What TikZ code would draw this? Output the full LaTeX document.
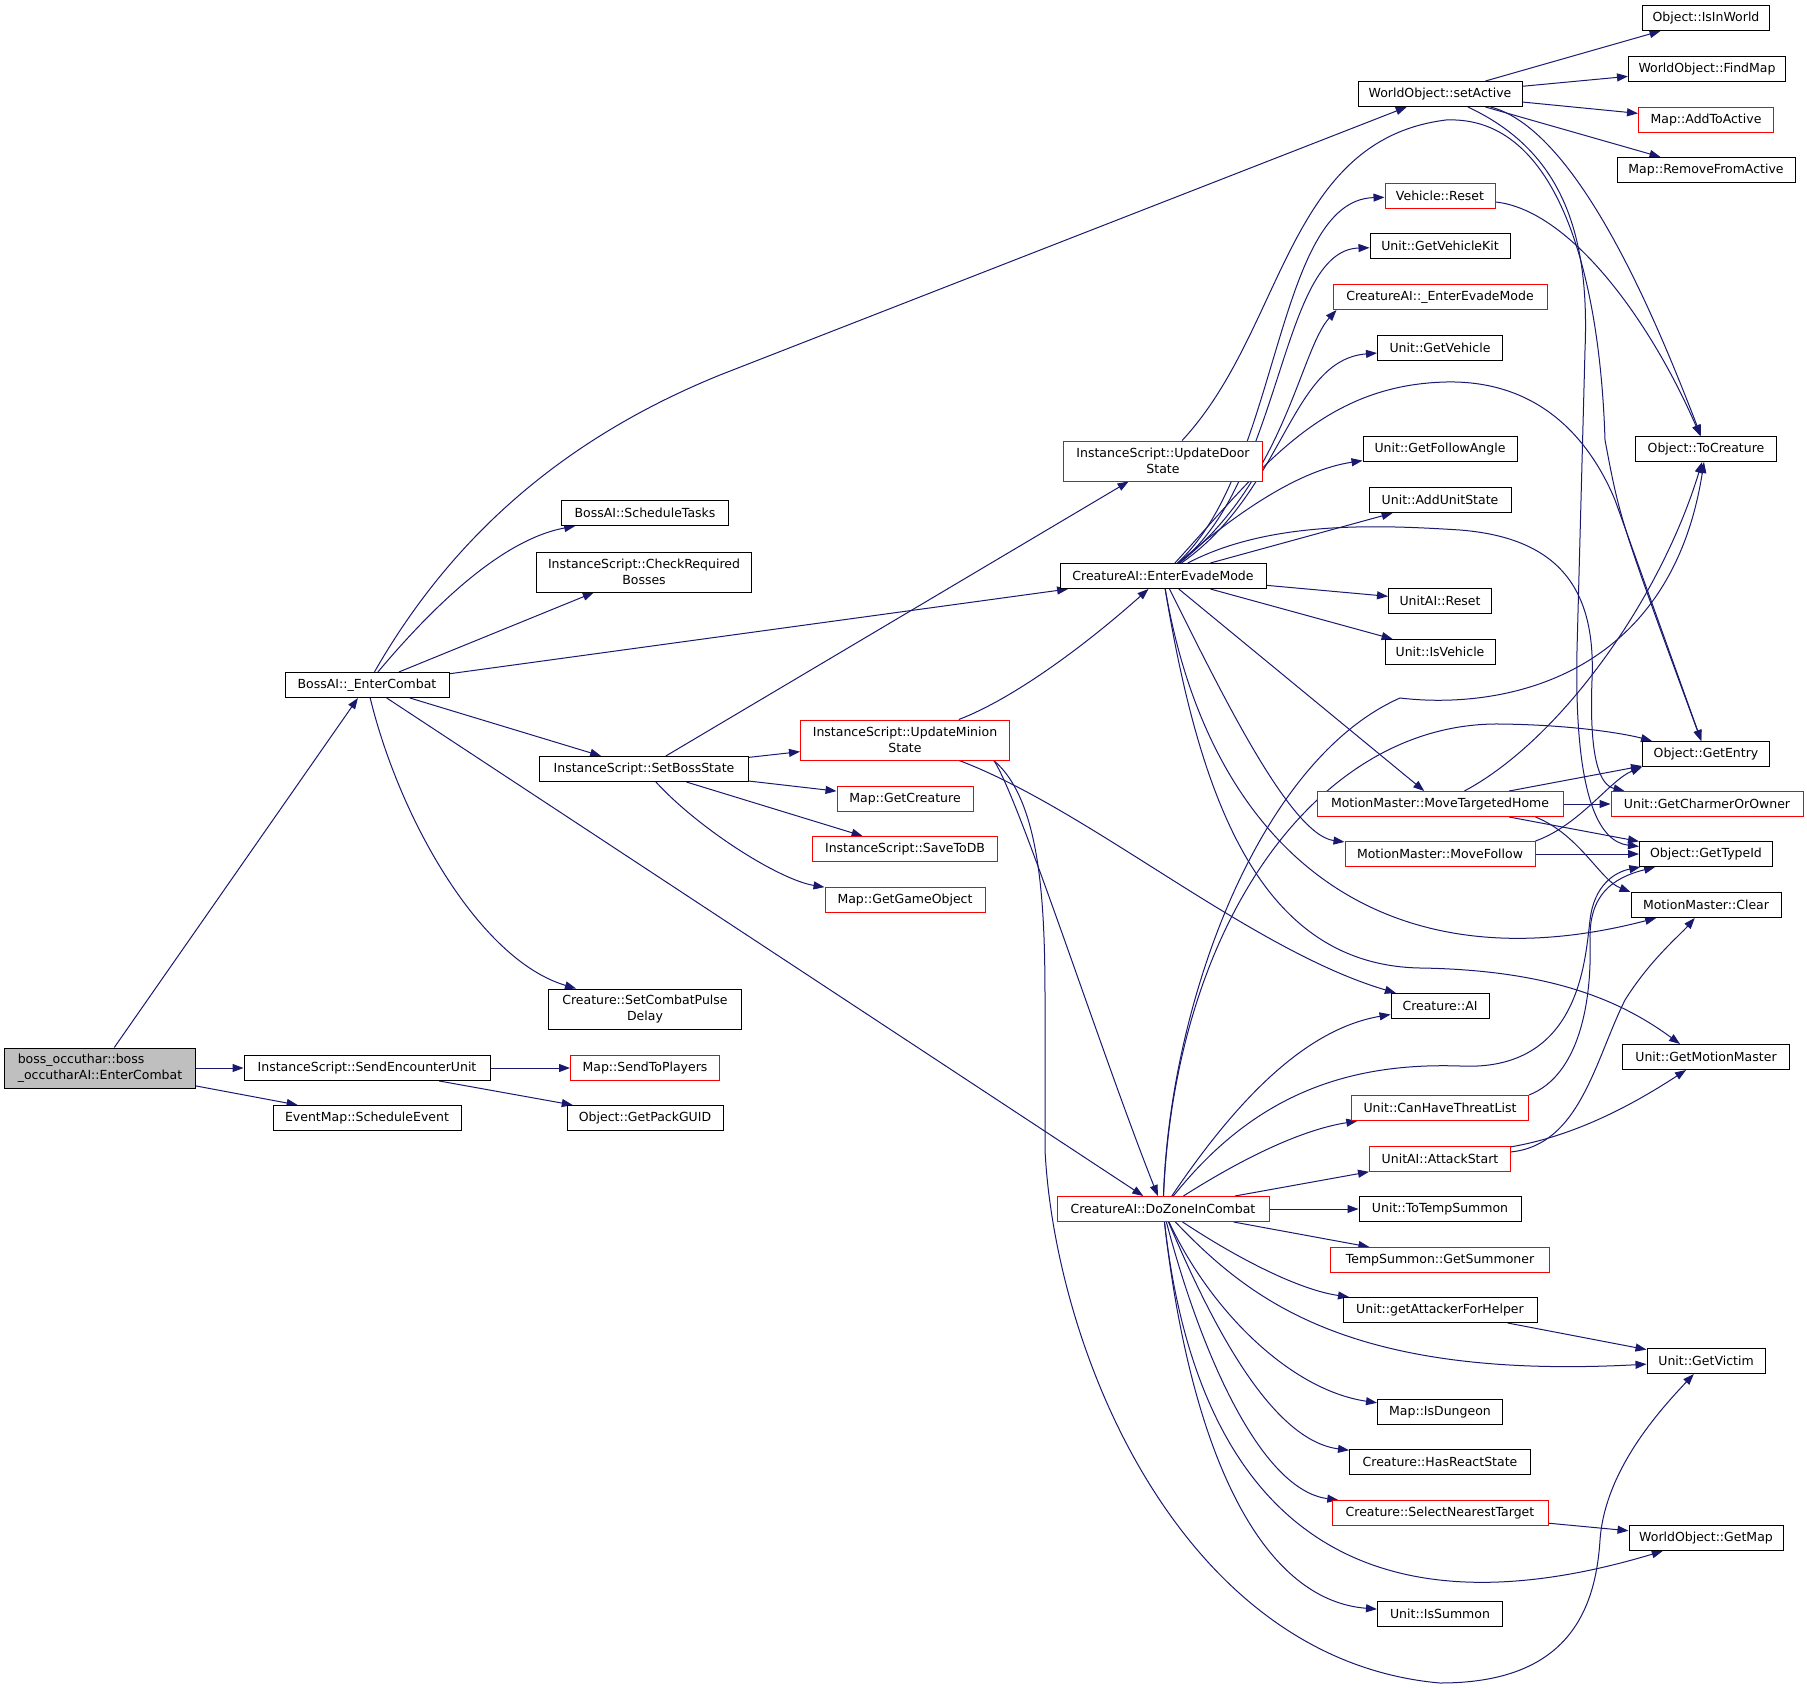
\documentclass[tikz,border=0pt]{standalone}
\usepackage{fontspec}
\setmainfont{DejaVu Sans}
\usepackage{xcolor}
\usepackage{tikz}
\usetikzlibrary{arrows.meta}
\usetikzlibrary{backgrounds}
\definecolor{edgeblue}{HTML}{191970}
\tikzset{
 fn/.style={draw=black, fill=white, line width=1pt, inner xsep=3pt, inner ysep=2pt, minimum height=25pt, font=\fontsize{12.5}{15.5}\selectfont},
 fnred/.style={fn, draw=red},
 fnroot/.style={fn, fill=black!25, align=left, minimum height=40pt},
 two/.style={minimum height=40pt, align=center},
 call/.style={draw=edgeblue, line width=1pt, -{Triangle[length=11pt,width=8pt]}}
}
\begin{document}
\begin{tikzpicture}[x=1pt,y=-1pt]
\path[use as bounding box] (0,0) rectangle (1807,1688);
\node[fnroot, minimum width=191] (boss) at (100,1068) {boss\_occuthar::boss\\\_occutharAI::EnterCombat};
\node[fn, minimum width=164] (bossec) at (367,685) {BossAI::\_EnterCombat};
\node[fn, minimum width=246] (sendenc) at (367,1068) {InstanceScript::SendEncounterUnit};
\node[fn, minimum width=188] (schedev) at (367,1118) {EventMap::ScheduleEvent};
\node[fn, minimum width=167] (schedtasks) at (645,513) {BossAI::ScheduleTasks};
\node[fn, two, minimum width=215] (checkreq) at (644,572) {InstanceScript::CheckRequired\\Bosses};
\node[fn, minimum width=209] (setboss) at (644,769) {InstanceScript::SetBossState};
\node[fn, two, minimum width=193] (pulse) at (645,1009) {Creature::SetCombatPulse\\Delay};
\node[fnred, minimum width=149] (sendplayers) at (645,1068) {Map::SendToPlayers};
\node[fn, minimum width=156] (packguid) at (645,1118) {Object::GetPackGUID};
\node[fnred, two, minimum width=199] (doorstate) at (1163,461) {InstanceScript::UpdateDoor\\State};
\node[fnred, two, minimum width=209] (minion) at (905,740) {InstanceScript::UpdateMinion\\State};
\node[fnred, minimum width=136] (getcreature) at (905,799) {Map::GetCreature};
\node[fnred, minimum width=185] (savedb) at (905,849) {InstanceScript::SaveToDB};
\node[fnred, minimum width=160] (getgo) at (905,900) {Map::GetGameObject};
\node[fn, minimum width=206] (evade) at (1163,576) {CreatureAI::EnterEvadeMode};
\node[fnred, minimum width=212] (dozone) at (1163,1209) {CreatureAI::DoZoneInCombat};
\node[fn, minimum width=164] (setactive) at (1440,94) {WorldObject::setActive};
\node[fnred, minimum width=110] (vreset) at (1440,196) {Vehicle::Reset};
\node[fn, minimum width=140] (vehkit) at (1440,246) {Unit::GetVehicleKit};
\node[fnred, minimum width=214] (evadeint) at (1440,297) {CreatureAI::\_EnterEvadeMode};
\node[fn, minimum width=125] (getveh) at (1440,348) {Unit::GetVehicle};
\node[fn, minimum width=154] (followangle) at (1440,449) {Unit::GetFollowAngle};
\node[fn, minimum width=142] (addstate) at (1440,500) {Unit::AddUnitState};
\node[fn, minimum width=103] (aireset) at (1440,601) {UnitAI::Reset};
\node[fn, minimum width=110] (isveh) at (1440,652) {Unit::IsVehicle};
\node[fnred, minimum width=246] (targhome) at (1440,804) {MotionMaster::MoveTargetedHome};
\node[fnred, minimum width=190] (movefollow) at (1440,854) {MotionMaster::MoveFollow};
\node[fn, minimum width=98] (creatureai) at (1440,1006) {Creature::AI};
\node[fnred, minimum width=177] (threat) at (1440,1108) {Unit::CanHaveThreatList};
\node[fnred, minimum width=141] (attack) at (1440,1159) {UnitAI::AttackStart};
\node[fn, minimum width=162] (tempsum) at (1440,1209) {Unit::ToTempSummon};
\node[fnred, minimum width=219] (summoner) at (1440,1260) {TempSummon::GetSummoner};
\node[fn, minimum width=194] (helper) at (1440,1310) {Unit::getAttackerForHelper};
\node[fn, minimum width=125] (isdungeon) at (1440,1412) {Map::IsDungeon};
\node[fn, minimum width=181] (reactstate) at (1440,1462) {Creature::HasReactState};
\node[fnred, minimum width=216] (nearest) at (1440,1513) {Creature::SelectNearestTarget};
\node[fn, minimum width=125] (issummon) at (1440,1614) {Unit::IsSummon};
\node[fn, minimum width=127] (isinworld) at (1706,18) {Object::IsInWorld};
\node[fn, minimum width=157] (findmap) at (1707,69) {WorldObject::FindMap};
\node[fnred, minimum width=135] (addactive) at (1706,120) {Map::AddToActive};
\node[fn, minimum width=178] (removeactive) at (1706,170) {Map::RemoveFromActive};
\node[fn, minimum width=141] (tocreature) at (1706,449) {Object::ToCreature};
\node[fn, minimum width=127] (getentry) at (1706,754) {Object::GetEntry};
\node[fnred, minimum width=192] (charmer) at (1707,804) {Unit::GetCharmerOrOwner};
\node[fn, minimum width=133] (typeid) at (1706,854) {Object::GetTypeId};
\node[fn, minimum width=150] (clear) at (1706,905) {MotionMaster::Clear};
\node[fn, minimum width=167] (motionmaster) at (1706,1057) {Unit::GetMotionMaster};
\node[fn, minimum width=118] (victim) at (1706,1361) {Unit::GetVictim};
\node[fn, minimum width=154] (getmap) at (1706,1538) {WorldObject::GetMap};
\begin{scope}[on background layer]
\fill[white] (0,0) rectangle (1807,1688);
\foreach \a/\b in {boss/bossec, boss/sendenc, boss/schedev, sendenc/sendplayers, sendenc/packguid, bossec/checkreq, bossec/evade, bossec/setboss, bossec/dozone, setboss/doorstate, setboss/minion, setboss/getcreature, setboss/savedb, evade/addstate, evade/aireset, evade/isveh, evade/targhome, dozone/attack, dozone/tempsum, dozone/summoner, helper/victim, nearest/getmap, setactive/isinworld, setactive/findmap, setactive/addactive, setactive/removeactive, targhome/getentry, targhome/charmer, targhome/typeid, movefollow/typeid}
 \draw[call] (\a) -- (\b);
\draw[call] (bossec) .. controls (450,540) and (560,440) .. (720,375) -- (setactive);
\draw[call] (bossec) .. controls (430,610) and (500,540) .. (schedtasks);
\draw[call] (bossec) .. controls (400,820) and (480,960) .. (pulse);
\draw[call] (setboss) .. controls (700,830) and (780,880) .. (getgo);
\draw[call] (minion) .. controls (1010,700) and (1080,650) .. (evade);
\draw[call] (minion.-13) .. controls (1020,800) and (1100,1050) .. (dozone);
\draw[call] (minion) .. controls (1090,810) and (1250,950) .. (creatureai);
\draw[call] (minion.-13) .. controls (1040,800) and (1045,900) .. (1045,1000) -- (1045,1150) .. controls (1055,1350) and (1180,1660) .. (1440,1683) .. controls (1560,1683) and (1595,1620) .. (1600,1540) .. controls (1605,1470) and (1660,1410) .. (victim);
\draw[call] (doorstate) .. controls (1285,330) and (1285,140) .. (1446,120) .. controls (1560,115) and (1600,280) .. (1605,440) .. controls (1620,520) .. (getentry);
\draw[call] (evade) .. controls (1280,470) and (1275,200) .. (vreset);
\draw[call] (evade) .. controls (1283,480) and (1280,250) .. (vehkit);
\draw[call] (evade) .. controls (1285,480) and (1300,350) .. ([xshift=4]evadeint.south west);
\draw[call] (evade) .. controls (1285,490) and (1290,360) .. (getveh);
\draw[call] (evade) .. controls (1240,510) and (1300,470) .. (followangle);
\draw[call] (evade) .. controls (1260,470) and (1320,385) .. (1446,382) .. controls (1540,380) and (1590,440) .. (1615,500) -- (getentry);
\draw[call] (evade) .. controls (1270,520) and (1380,525) .. (1460,530) .. controls (1560,538) and (1596,590) .. (1592,680) .. controls (1589,760) and (1600,785) .. ([xshift=14]charmer.north west);
\draw[call] (evade) .. controls (1220,690) and (1290,835) .. (movefollow);
\draw[call] (evade) .. controls (1210,850) and (1380,990) .. (clear);
\draw[call] (evade) .. controls (1200,800) and (1260,965) .. (1420,968) .. controls (1550,970) and (1620,1000) .. ([xshift=-26]motionmaster.north);
\draw[call] (setactive) .. controls (1580,130) and (1660,330) .. (tocreature);
\draw[call] (setactive) .. controls (1560,150) and (1590,230) .. (1585,350) -- (1577,650) .. controls (1574,800) and (1600,842) .. (typeid);
\draw[call] (vreset) .. controls (1570,210) and (1650,320) .. (tocreature);
\draw[call] (targhome) .. controls (1560,740) and (1660,600) .. (tocreature);
\draw[call] ([xshift=-28]targhome.south east) .. controls (1580,835) and (1600,880) .. (clear.north west);
\draw[call] (movefollow.north east) .. controls (1580,825) and (1610,780) .. (getentry.south west);
\draw[call] (dozone) .. controls (1230,1110) and (1300,1030) .. (creatureai);
\draw[call] (dozone) .. controls (1240,1160) and (1300,1130) .. (threat);
\draw[call] (dozone) .. controls (1240,1260) and (1300,1290) .. (helper);
\draw[call] (dozone) .. controls (1250,1300) and (1350,1380) .. (victim);
\draw[call] (dozone) .. controls (1210,1310) and (1290,1390) .. (isdungeon);
\draw[call] (dozone) .. controls (1210,1320) and (1270,1440) .. (reactstate);
\draw[call] (dozone) .. controls (1200,1350) and (1260,1490) .. (nearest);
\draw[call] (dozone) .. controls (1190,1450) and (1300,1660) .. (getmap);
\draw[call] (dozone) .. controls (1190,1450) and (1260,1600) .. (issummon);
\draw[call] (dozone) .. controls (1170,1000) and (1260,760) .. (1400,698) .. controls (1500,710) and (1670,680) .. (tocreature);
\draw[call] (dozone) .. controls (1175,920) and (1320,722) .. (1500,724) .. controls (1580,725) and (1630,735) .. ([xshift=10]getentry.north west);
\draw[call] (dozone) .. controls (1250,1100) and (1340,1062) .. (1460,1066) .. controls (1580,1072) and (1585,960) .. (1590,920) .. controls (1594,885) and (1615,872) .. (typeid);
\draw[call] (threat.north east) .. controls (1580,1075) and (1592,1000) .. (1590,940) .. controls (1589,895) and (1612,878) .. (typeid);
\draw[call] (attack) .. controls (1580,1145) and (1595,1060) .. (1625,1000) .. controls (1650,960) and (1680,935) .. (clear);
\draw[call] (attack) .. controls (1580,1135) and (1640,1100) .. (motionmaster);
\end{scope}
\end{tikzpicture}
\end{document}
